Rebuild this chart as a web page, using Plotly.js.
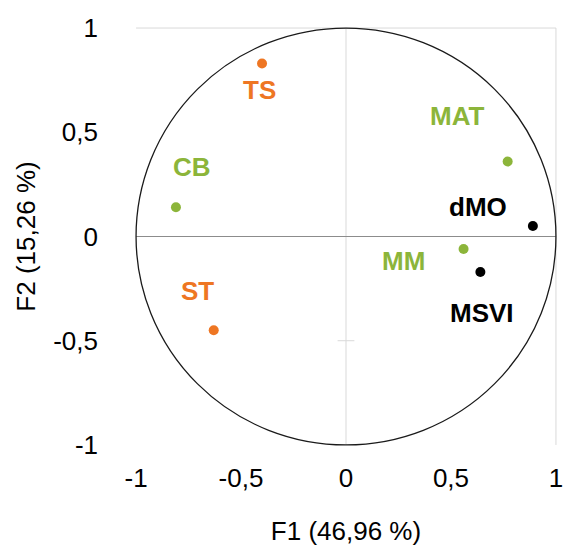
<!DOCTYPE html>
<html>
<head>
<meta charset="utf-8">
<script src="https://cdn.plot.ly/plotly-3.0.1.min.js"></script>
<style>html,body{margin:0;padding:0;background:#fff;}#chart{width:563px;height:550px;}</style>
</head>
<body>
<div id="chart"></div>
<script>
// Variables (PCA correlation circle)
const labels = ["TS", "CB", "ST", "MAT", "dMO", "MM", "MSVI"];
const f1 = [-0.40, -0.81, -0.63, 0.77, 0.89, 0.56, 0.64];
const f2 = [0.83, 0.14, -0.45, 0.36, 0.05, -0.06, -0.17];
const groups = ["orange", "green", "orange", "green", "black", "green", "black"];
const tickVals = [-1, -0.5, 0, 0.5, 1];
const tickText = ["-1", "-0,5", "0", "0,5", "1"];
const xTitle = "F1 (46,96 %)";
const yTitle = "F2 (15,26 %)";

const palette = {orange: "#EE7623", green: "#8CB53A", black: "#000000"};
// label offsets in px (style only)
const offsets = {
  TS: [-3, -27], CB: [16, 40], ST: [-16, 39], MAT: [-50, 45],
  dMO: [-55, 19], MM: [-60, -12], MSVI: [2, -41]
};

const trace = {
  x: f1, y: f2, mode: "markers", type: "scatter",
  marker: {size: 10, color: groups.map(g => palette[g])},
  hoverinfo: "text", text: labels, cliponaxis: false
};

const annotations = labels.map((l, i) => ({
  x: f1[i], y: f2[i], xref: "x", yref: "y", text: "<b>" + l + "</b>",
  showarrow: false, xshift: offsets[l][0], yshift: offsets[l][1],
  font: {family: "Liberation Sans, Arial, sans-serif", size: 26, color: palette[groups[i]]}
}));

const grid = "#D9D9D9";
const shapes = [
  {type: "line", xref: "x", yref: "y", x0: -1, x1: 1, y0: 1, y1: 1, line: {color: grid, width: 1}, layer: "below"},
  {type: "line", xref: "x", yref: "y", x0: 0, x1: 0, y0: -1, y1: 1, line: {color: grid, width: 1}, layer: "below"},
  {type: "line", xref: "x", yref: "y", x0: 1, x1: 1, y0: -1, y1: 1, line: {color: grid, width: 1}, layer: "below"},
  {type: "line", xref: "x", yref: "y", x0: -0.04, x1: 0.04, y0: -0.5, y1: -0.5, line: {color: grid, width: 1}, layer: "below"},
  {type: "line", xref: "x", yref: "y", x0: -1, x1: 1, y0: 0, y1: 0, line: {color: "#8C8C8C", width: 1.2}, layer: "below"},
  {type: "circle", xref: "x", yref: "y", x0: -1, x1: 1, y0: -1, y1: 1, line: {color: "#1a1a1a", width: 1.3}}
];

const tickFont = {family: "Liberation Sans, Arial, sans-serif", size: 26, color: "#000"};

const layout = {
  width: 563, height: 550,
  margin: {l: 135, r: 6, t: 27, b: 104},
  paper_bgcolor: "#fff", plot_bgcolor: "#fff",
  showlegend: false,
  xaxis: {
    range: [-1.005, 1.005], tickvals: tickVals, ticktext: tickText,
    showgrid: false, zeroline: false, showline: false, ticks: "",
    ticklabelstandoff: 14, ticklabeloverflow: "allow", tickfont: tickFont, fixedrange: true,
    title: {text: xTitle, font: tickFont, standoff: 29}
  },
  yaxis: {
    range: [-1.005, 1.005], tickvals: tickVals, ticktext: tickText,
    showgrid: false, zeroline: false, showline: false, ticks: "",
    ticklabelstandoff: 36, ticklabeloverflow: "allow", tickfont: tickFont, fixedrange: true,
    title: {text: yTitle, font: tickFont, standoff: 10}
  },
  shapes: shapes,
  annotations: annotations
};

Plotly.newPlot("chart", [trace], layout, {displayModeBar: false, staticPlot: true});
</script>
</body>
</html>
